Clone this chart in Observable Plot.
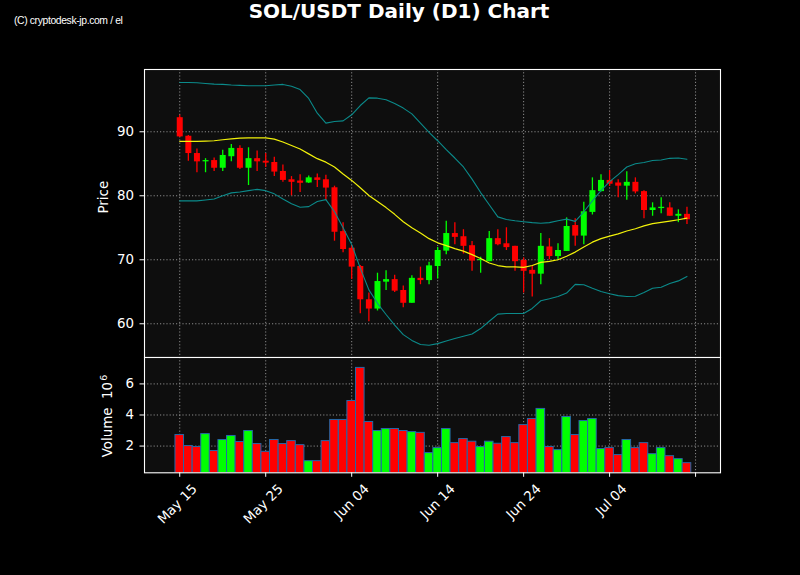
<!DOCTYPE html>
<html>
<head>
<meta charset="utf-8">
<script src="https://cdn.jsdelivr.net/npm/d3@7"></script>
<script src="https://cdn.jsdelivr.net/npm/@observablehq/plot@0.6"></script>
<style>
html,body{margin:0;padding:0;background:#000;}
#wrap{position:relative;width:800px;height:575px;background:#000;overflow:hidden;}
#wrap svg{position:absolute;left:0;top:0;}
#title{position:absolute;left:0;top:-1px;width:798px;text-align:center;color:#fff;font:bold 20px "DejaVu Sans";line-height:24px;}
#credit{position:absolute;left:14px;top:15px;color:#fff;font:10.4px "Liberation Sans Narrow","Liberation Sans";letter-spacing:-0.38px;white-space:nowrap;}
</style>
</head>
<body>
<div id="wrap">
  <div id="title">SOL/USDT Daily (D1) Chart</div>
  <div id="credit">(C) cryptodesk-jp.com / el</div>
</div>
<script>
const dates = [
 "2024-05-15","2024-05-16","2024-05-17","2024-05-18","2024-05-19","2024-05-20","2024-05-21","2024-05-22","2024-05-23","2024-05-24",
 "2024-05-25","2024-05-26","2024-05-27","2024-05-28","2024-05-29","2024-05-30","2024-05-31","2024-06-01","2024-06-02","2024-06-03",
 "2024-06-04","2024-06-05","2024-06-06","2024-06-07","2024-06-08","2024-06-09","2024-06-10","2024-06-11","2024-06-12","2024-06-13",
 "2024-06-14","2024-06-15","2024-06-16","2024-06-17","2024-06-18","2024-06-19","2024-06-20","2024-06-21","2024-06-22","2024-06-23",
 "2024-06-24","2024-06-25","2024-06-26","2024-06-27","2024-06-28","2024-06-29","2024-06-30","2024-07-01","2024-07-02","2024-07-03",
 "2024-07-04","2024-07-05","2024-07-06","2024-07-07","2024-07-08","2024-07-09","2024-07-10","2024-07-11","2024-07-12","2024-07-13"];
const open = [
 92.2,89.3,86.6,85.3,85.5,84.3,86.1,87.4,84.3,85.8,
 85.4,85.2,83.8,82.5,82.3,82.0,82.8,82.5,81.25,74.4,
 71.8,68.95,63.75,62.3,66.5,66.9,65.2,63.2,67.1,66.75,
 68.95,71.35,74.1,73.6,72.2,69.85,69.7,73.3,72.5,72.1,
 69.9,68.35,67.75,72.0,70.5,71.3,75.35,73.7,77.4,80.65,
 82.4,82.0,81.5,82.1,80.65,77.7,78.0,78.1,76.8,77.1];
const high = [
 92.6,89.4,87.3,85.8,85.9,87.1,88.0,87.8,87.5,87.0,
 86.6,86.0,84.8,83.0,83.3,83.1,83.4,83.2,81.5,75.8,
 72.2,69.1,64.8,67.9,68.3,67.6,65.9,67.5,68.85,69.6,
 71.9,76.0,75.8,74.7,72.85,70.4,74.4,74.7,75.0,72.1,
 70.3,69.0,74.1,73.3,72.5,76.55,76.4,79.0,82.8,83.3,
 83.95,82.5,83.75,82.8,80.8,78.9,79.7,78.9,77.8,78.2];
const low = [
 89.1,85.4,83.6,83.6,83.8,83.8,85.3,84.1,81.6,83.8,
 84.4,83.0,82.1,80.0,80.5,81.9,81.3,79.3,72.9,71.1,
 66.9,61.55,60.3,62.0,65.2,64.9,62.5,63.2,66.1,66.1,
 67.0,70.8,72.35,70.9,68.2,67.9,69.7,72.2,71.45,68.2,
 64.8,64.2,66.1,70.0,70.0,71.3,72.1,72.35,77.0,80.6,
 81.45,79.7,79.3,80.3,76.4,76.8,77.2,76.8,75.8,75.5];
const close = [
 89.2,86.6,85.3,85.5,84.3,86.3,87.4,84.3,85.8,85.3,
 85.1,83.7,82.4,82.1,81.95,82.8,82.4,81.2,74.3,71.6,
 68.85,63.75,62.3,66.6,66.9,65.1,63.2,67.1,66.75,69.05,
 71.45,74.1,73.5,72.1,69.8,70.05,73.3,72.35,71.9,69.7,
 68.2,67.75,72.1,70.5,71.45,75.2,73.7,77.5,80.8,82.4,
 81.8,81.5,82.1,80.6,77.7,78.1,78.2,76.8,77.1,76.25];
// volume in millions (axis label "Volume 10^6")
const volume = [
 2.71,2.0,1.94,2.77,1.68,2.39,2.65,2.26,2.97,2.13,
 1.63,2.39,2.13,2.32,2.06,1.03,1.03,2.32,3.68,3.68,
 4.9,7.03,3.55,2.97,3.1,3.1,2.97,2.9,2.85,1.55,
 1.87,3.1,2.19,2.45,2.28,1.94,2.28,2.15,2.58,2.19,
 3.35,3.74,4.39,1.94,1.74,3.87,2.71,3.61,3.74,1.81,
 1.87,1.42,2.39,1.87,2.19,1.48,1.87,1.35,1.16,0.9];
const sma = [
 88.5,88.5,88.5,88.55,88.6,88.75,88.9,89.0,89.05,89.05,
 89.05,88.85,88.4,87.85,87.3,86.55,85.8,85.25,84.5,83.4,
 82.4,81.25,80.05,79.1,78.15,77.1,75.95,75.0,74.2,73.3,
 72.65,72.2,71.75,71.35,70.8,70.2,69.5,69.1,68.9,68.9,
 68.8,69.1,69.6,69.75,70.0,70.55,71.2,72.0,72.75,73.3,
 73.7,74.05,74.5,74.85,75.3,75.65,75.85,76.05,76.25,76.5];
const upper = [
 97.7,97.7,97.65,97.55,97.45,97.4,97.3,97.25,97.2,97.2,
 97.2,97.3,97.4,97.1,96.6,95.2,92.9,91.35,91.6,91.7,
 92.65,94.1,95.3,95.25,95.0,94.4,93.7,92.8,91.35,89.9,
 88.6,87.2,85.9,84.5,82.6,80.5,78.6,76.7,76.3,76.1,
 75.95,75.8,75.7,75.8,76.1,76.35,76.0,77.5,79.2,80.8,
 82.2,83.3,84.5,85.0,85.2,85.5,85.6,85.85,85.9,85.7];
const lower = [
 79.2,79.2,79.2,79.35,79.5,80.0,80.45,80.6,80.8,81.0,
 80.8,80.3,79.5,78.75,78.2,78.3,79.1,79.4,77.5,75.0,
 72.4,68.7,65.3,63.2,61.45,59.8,58.3,57.4,56.75,56.65,
 56.9,57.3,57.7,58.05,58.4,59.25,60.4,61.5,61.6,61.6,
 61.6,62.4,63.6,63.9,64.25,64.8,66.15,66.1,65.55,65.05,
 64.7,64.4,64.25,64.3,64.9,65.55,65.7,66.3,66.7,67.4];
const xTickDates = ["2024-05-15","2024-05-25","2024-06-04","2024-06-14","2024-06-24","2024-07-04","2024-07-14"];
const xTickLabels = ["May 15","May 25","Jun 04","Jun 14","Jun 24","Jul 04",""];
const priceTicks = [60, 70, 80, 90];
const volumeTicks = [2, 4, 6];

const DAY = 864e5;
const rows = dates.map((d, i) => ({
  date: new Date(d + "T00:00:00Z"),
  o: open[i], h: high[i], l: low[i], c: close[i], v: volume[i],
  sma: sma[i], up: upper[i], lo: lower[i],
  color: close[i] >= open[i] ? "#00ff00" : "#ff0000"
}));
const tickDates = xTickDates.map(d => new Date(d + "T00:00:00Z"));
const t0 = +rows[0].date;
const xDomain = [new Date(t0 - 4.1 * DAY), new Date(t0 + 62.9 * DAY)];

const GRID = {stroke: "#c8c8c8", strokeOpacity: 0.75, strokeDasharray: "1.2,2", strokeWidth: 0.9};
const FS = 13.4;
const common = {
  width: 800, height: 575, marginLeft: 144, marginRight: 80,
  x: {type: "utc", domain: xDomain, axis: null},
  style: {background: "transparent", color: "#fff", fontFamily: "DejaVu Sans", fontSize: FS + "px"}
};

const pricePlot = Plot.plot({
  ...common,
  marginTop: 69, marginBottom: 218,
  y: {domain: [54.73, 99.73], axis: null},
  marks: [
    Plot.frame({fill: "#0e0e0e", stroke: null}),
    Plot.gridX(tickDates, {...GRID}),
    Plot.gridY(priceTicks, {...GRID}),
    Plot.ruleX(rows, {x: "date", y1: "l", y2: "h", stroke: "color", strokeWidth: 1.3}),
    Plot.ruleX(rows, {x: "date", y1: "o", y2: "c", stroke: "color", strokeWidth: 6}),
    Plot.line(rows, {x: "date", y: "up", stroke: "#0b8a8a", strokeWidth: 1.1}),
    Plot.line(rows, {x: "date", y: "lo", stroke: "#0b8a8a", strokeWidth: 1.1}),
    Plot.line(rows, {x: "date", y: "sma", stroke: "#f2f20a", strokeWidth: 1.2}),
    Plot.frame({stroke: "#fff", strokeWidth: 1.1}),
    Plot.axisY(priceTicks, {tickSize: 4.5, tickPadding: 6, label: null, fontSize: FS}),
    Plot.text(["Price"], {frameAnchor: "left", dx: -41, rotate: -90, fill: "#fff", fontSize: FS})
  ]
});

const volumePlot = Plot.plot({
  ...common,
  marginTop: 357, marginBottom: 102.7,
  y: {domain: [0.28, 7.7], axis: null},
  marks: [
    Plot.frame({fill: "#0e0e0e", stroke: null}),
    Plot.gridX(tickDates, {...GRID}),
    Plot.gridY(volumeTicks, {...GRID}),
    Plot.rectY(rows, {
      x1: d => new Date(+d.date - 0.5 * DAY), x2: d => new Date(+d.date + 0.5 * DAY),
      y1: 0, y2: "v", fill: "color", stroke: "#2568a8", strokeWidth: 1, clip: true
    }),
    Plot.frame({stroke: "#fff", strokeWidth: 1.1}),
    Plot.axisY(volumeTicks, {tickSize: 4.5, tickPadding: 6, label: null, fontSize: FS}),
    Plot.axisX(tickDates, {tickSize: 4.5, tickFormat: () => "", label: null}),
    Plot.text(tickDates.map((d, i) => ({d, s: xTickLabels[i]})), {
      x: "d", text: "s", frameAnchor: "bottom", dx: 15, dy: 14, rotate: -45,
      textAnchor: "end", lineAnchor: "middle", fill: "#fff", fontSize: FS
    }),
    Plot.text(["Volume  10"], {frameAnchor: "bottom-left", dx: -33, dy: -15.5, rotate: -90,
      textAnchor: "start", fill: "#fff", fontSize: FS}),
    Plot.text(["6"], {frameAnchor: "bottom-left", dx: -37.5, dy: -92, rotate: -90,
      textAnchor: "start", fill: "#fff", fontSize: 9.5})
  ]
});

const wrap = document.getElementById("wrap");
wrap.appendChild(pricePlot);
wrap.appendChild(volumePlot);
</script>
</body>
</html>
